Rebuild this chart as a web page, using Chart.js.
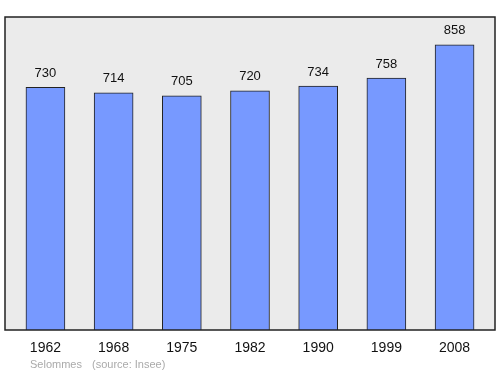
<!DOCTYPE html>
<html>
<head>
<meta charset="utf-8">
<script src="https://cdn.jsdelivr.net/npm/chart.js@4"></script>
<style>
  html, body { margin: 0; padding: 0; background: #fff; }
  #wrap { width: 500px; height: 374px; }
</style>
</head>
<body>
<div id="wrap"><canvas id="c" width="500" height="374"></canvas></div>
<script>
var years = ['1962', '1968', '1975', '1982', '1990', '1999', '2008'];
var population = [730, 714, 705, 720, 734, 758, 858];
var placeName = 'Selommes';
var sourceText = '(source: Insee)';

// background + frame of the plot area, value labels, footer
var decor = {
    id: 'decor',
    beforeDraw: function (chart) {
        var a = chart.chartArea, ctx = chart.ctx;
        ctx.save();
        ctx.fillStyle = '#ebebeb';
        ctx.fillRect(a.left, a.top, a.right - a.left, a.bottom - a.top);
        ctx.restore();
    },
    afterDatasetsDraw: function (chart) {
        var a = chart.chartArea, ctx = chart.ctx;
        ctx.save();
        ctx.strokeStyle = '#222';
        ctx.lineWidth = 1.5;
        ctx.strokeRect(a.left, a.top, a.right - a.left, a.bottom - a.top);

        ctx.fillStyle = '#111';
        ctx.font = '13px "Liberation Sans", Arial, sans-serif';
        ctx.textAlign = 'center';
        ctx.textBaseline = 'middle';
        chart.getDatasetMeta(0).data.forEach(function (bar, i) {
            ctx.fillText(String(population[i]), bar.x, bar.y - 14);
        });

        ctx.fillStyle = '#aaa';
        ctx.font = '11px "Liberation Sans", Arial, sans-serif';
        ctx.textAlign = 'left';
        ctx.fillText(placeName, 30, 365);
        ctx.fillText(sourceText, 92, 365);
        ctx.restore();
    }
};

new Chart(document.getElementById('c').getContext('2d'), {
    type: 'bar',
    data: {
        datasets: [{
            data: population.map(function (v, i) { return { x: i, y: v }; }),
            backgroundColor: '#7799ff',
            borderColor: '#222',
            borderWidth: 1,
            barThickness: 39
        }]
    },
    options: {
        responsive: false,
        animation: false,
        layout: { padding: { left: 5, right: 5, top: 17, bottom: 0 } },
        plugins: { legend: { display: false }, tooltip: { enabled: false } },
        scales: {
            x: {
                type: 'linear',
                offset: false,
                min: -0.593,
                max: 6.593,
                grid: { display: false, drawTicks: false },
                border: { display: false },
                afterFit: function (s) { s.height = 44; },
                afterBuildTicks: function (s) {
                    s.ticks = years.map(function (y, i) { return { value: i }; });
                },
                ticks: {
                    padding: 10,
                    color: '#111',
                    font: { size: 14, family: '"Liberation Sans", Arial, sans-serif' },
                    callback: function (v) { return years[v]; }
                }
            },
            y: {
                display: false,
                min: 0,
                max: 942
            }
        }
    },
    plugins: [decor]
});
</script>
</body>
</html>
